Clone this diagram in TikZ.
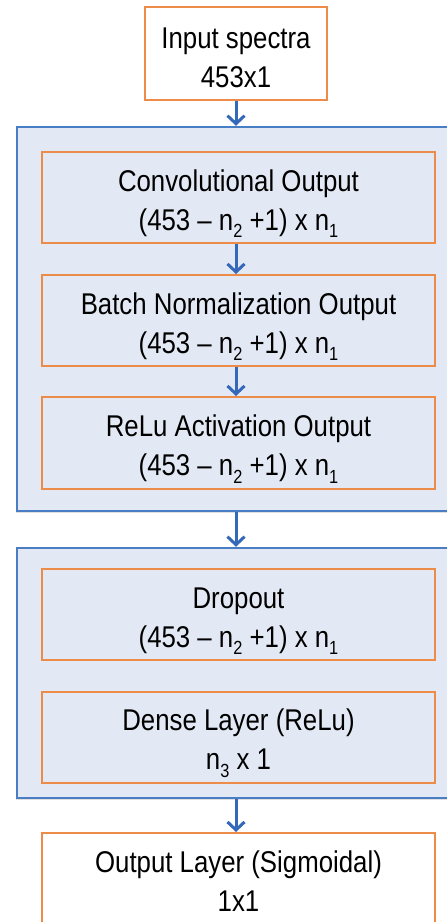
\documentclass[tikz,border=0pt]{standalone}
\usepackage{fontspec}
\setmainfont{Liberation Sans}[FakeStretch=0.86]
\usetikzlibrary{arrows.meta,shadows}
\definecolor{boxorange}{RGB}{237,139,72}
\definecolor{grpblue}{RGB}{74,126,196}
\definecolor{grpfill}{RGB}{227,233,244}
\definecolor{arrblue}{RGB}{52,104,184}
\newcommand{\sbs}[1]{\raisebox{-0.5ex}{\fontsize{19}{19}\selectfont #1}}
\newcommand{\toppad}[1]{\rule{0pt}{#1}}
\tikzset{
  lbl/.style={align=center, font=\fontsize{30}{39}\selectfont, inner sep=0pt},
  obox/.style={lbl, draw=boxorange, line width=2pt, minimum width=393pt, minimum height=91pt},
  wbox/.style={obox, fill=white},
  grp/.style={draw=grpblue, line width=2.5pt, fill=grpfill, minimum width=450pt, inner sep=0pt,
    drop shadow={shadow xshift=-1.5pt, shadow yshift=-2pt, opacity=0.25}},
  arr/.style={draw=arrblue, line width=3pt, -{Straight Barb[length=8pt,width=17pt,line width=3pt]}}
}
\begin{document}
\begin{tikzpicture}[x=1pt,y=-1pt]
\clip (0,0) rectangle (447,922);
\fill[white] (0,0) rectangle (447,922);
\node[grp, minimum height=384pt] (g1) at (242,319) {};
\node[grp, minimum height=250pt] (g2) at (242,673) {};
\node[wbox, minimum width=182pt, minimum height=93pt] (inp) at (236,53.5) {\toppad{30pt}Input spectra\\453x1};
\node[obox] (conv) at (238.5,197.5) {\toppad{34pt}Convolutional Output\\(453 -- n\sbs{2} +1) x n\sbs{1}};
\node[obox] (bn) at (238.5,320.5) {\toppad{34pt}Batch Normalization Output\\(453 -- n\sbs{2} +1) x n\sbs{1}};
\node[obox, minimum height=92pt] (relu) at (238.5,443) {\toppad{34pt}ReLu Activation Output\\(453 -- n\sbs{2} +1) x n\sbs{1}};
\node[obox] (drop) at (238.5,614.5) {\toppad{34pt}Dropout\\(453 -- n\sbs{2} +1) x n\sbs{1}};
\node[obox] (dense) at (238.5,737.5) {\toppad{34pt}Dense Layer (ReLu)\\n\sbs{3} x 1};
\node[wbox, minimum height=97pt] (out) at (238.5,881.5) {Output Layer (Sigmoidal)\\1x1};
\draw[arr] (inp.south) -- (inp.south |- g1.north);
\draw[arr] (inp.south |- conv.south) -- (inp.south |- bn.north);
\draw[arr] (inp.south |- bn.south) -- (inp.south |- relu.north);
\draw[arr] (inp.south |- g1.south) -- (inp.south |- g2.north);
\draw[arr] (inp.south |- g2.south) -- (inp.south |- out.north);
\end{tikzpicture}
\end{document}
